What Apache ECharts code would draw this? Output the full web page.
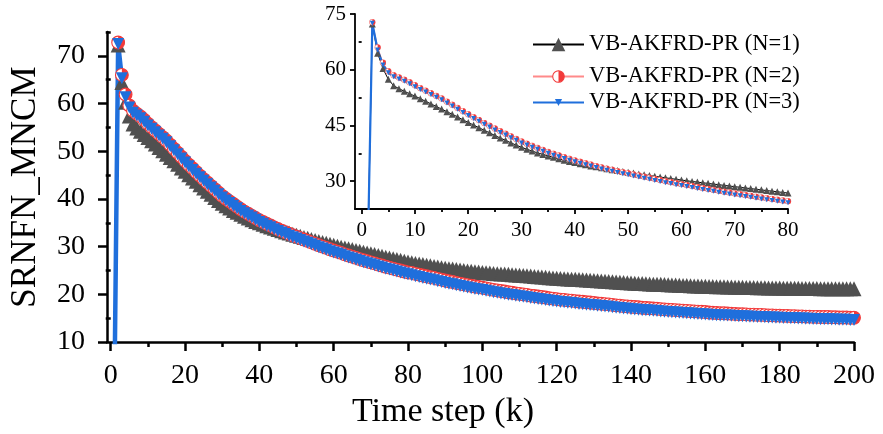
<!DOCTYPE html>
<html>
<head>
<meta charset="utf-8">
<script src="https://cdn.jsdelivr.net/npm/echarts@6/dist/echarts.min.js"></script>
<style>
  html, body { margin: 0; padding: 0; background: #fff; }
  #chart { width: 883px; height: 434px; }
</style>
</head>
<body>
<div id="chart"></div>
<script>
// Time steps k = 1 .. 200
const timeSteps = Array.from({ length: 200 }, (_, i) => i + 1);

// SRNFN_MNCM per time step, one array per filter order N
const seriesN1 = [
  0, 72.3, 64.4, 60.3, 57.4, 55.7, 54.9, 54.2, 53.5, 52.9,
  52.2, 51.5, 50.8, 50.1, 49.4, 48.7, 48.0, 47.3, 46.5, 45.8,
  45.1, 44.4, 43.7, 43.0, 42.3, 41.6, 41.0, 40.3, 39.7, 39.1,
  38.6, 38.1, 37.6, 37.2, 36.8, 36.4, 36.0, 35.65, 35.3, 35.0,
  34.7, 34.4, 34.1, 33.85, 33.6, 33.35, 33.1, 32.85, 32.6, 32.4,
  32.2, 31.95, 31.75, 31.5, 31.3, 31.1, 30.9, 30.7, 30.5, 30.3,
  30.1, 29.9, 29.75, 29.55, 29.4, 29.2, 29.05, 28.85, 28.7, 28.5,
  28.35, 28.15, 28.0, 27.8, 27.65, 27.45, 27.3, 27.15, 26.95, 26.8,
  26.65, 26.5, 26.35, 26.25, 26.1, 26.0, 25.85, 25.75, 25.6, 25.5,
  25.4, 25.3, 25.2, 25.1, 25.0, 24.9, 24.85, 24.75, 24.7, 24.6,
  24.55, 24.5, 24.4, 24.35, 24.3, 24.25, 24.2, 24.1, 24.05, 24.0,
  23.95, 23.9, 23.85, 23.75, 23.7, 23.65, 23.6, 23.5, 23.45, 23.4,
  23.35, 23.3, 23.25, 23.2, 23.15, 23.1, 23.05, 23.0, 22.95, 22.9,
  22.85, 22.8, 22.75, 22.7, 22.65, 22.6, 22.55, 22.5, 22.45, 22.4,
  22.35, 22.3, 22.3, 22.25, 22.2, 22.15, 22.1, 22.1, 22.05, 22.0,
  21.95, 21.95, 21.9, 21.85, 21.85, 21.8, 21.75, 21.75, 21.7, 21.7,
  21.65, 21.65, 21.6, 21.6, 21.6, 21.55, 21.55, 21.5, 21.5, 21.5,
  21.45, 21.45, 21.45, 21.4, 21.4, 21.4, 21.35, 21.35, 21.35, 21.35,
  21.3, 21.3, 21.3, 21.3, 21.3, 21.25, 21.25, 21.25, 21.25, 21.25,
  21.2, 21.2, 21.2, 21.2, 21.2, 21.2, 21.2, 21.2, 21.2, 21.2
];

const seriesN2 = [
  0, 72.8, 66.0, 61.9, 59.6, 58.5, 57.9, 57.3, 56.6, 55.8,
  55.05, 54.35, 53.65, 52.95, 52.25, 51.4, 50.55, 49.7, 48.85, 48.0,
  47.2, 46.45, 45.65, 44.9, 44.15, 43.45, 42.75, 42.05, 41.35, 40.65,
  40.05, 39.5, 38.95, 38.4, 37.85, 37.35, 36.9, 36.45, 36.0, 35.55,
  35.2, 34.8, 34.45, 34.05, 33.7, 33.35, 33.05, 32.7, 32.4, 32.1,
  31.8, 31.5, 31.2, 30.9, 30.6, 30.3, 30.0, 29.75, 29.45, 29.2,
  28.95, 28.7, 28.4, 28.15, 27.9, 27.65, 27.4, 27.15, 26.95, 26.7,
  26.5, 26.25, 26.05, 25.8, 25.6, 25.4, 25.2, 25.0, 24.8, 24.6,
  24.5, 24.3, 24.15, 23.95, 23.8, 23.6, 23.45, 23.25, 23.1, 22.9,
  22.75, 22.6, 22.4, 22.25, 22.1, 21.95, 21.8, 21.65, 21.55, 21.4,
  21.25, 21.1, 20.95, 20.85, 20.7, 20.6, 20.45, 20.35, 20.2, 20.1,
  20.0, 19.9, 19.75, 19.65, 19.55, 19.45, 19.35, 19.2, 19.1, 19.0,
  18.9, 18.85, 18.75, 18.7, 18.6, 18.5, 18.45, 18.35, 18.3, 18.2,
  18.1, 18.05, 17.95, 17.9, 17.8, 17.7, 17.65, 17.55, 17.5, 17.4,
  17.35, 17.3, 17.2, 17.15, 17.1, 17.05, 17.0, 16.9, 16.85, 16.8,
  16.75, 16.7, 16.65, 16.6, 16.55, 16.5, 16.45, 16.4, 16.35, 16.3,
  16.2, 16.15, 16.1, 16.05, 16.05, 16.0, 15.95, 15.9, 15.85, 15.85,
  15.8, 15.75, 15.75, 15.7, 15.7, 15.65, 15.6, 15.6, 15.55, 15.55,
  15.5, 15.5, 15.45, 15.45, 15.4, 15.4, 15.35, 15.35, 15.3, 15.3,
  15.25, 15.25, 15.25, 15.2, 15.2, 15.15, 15.15, 15.15, 15.1, 15.1
];

const seriesN3 = [
  0, 72.5, 65.3, 61.3, 59.2, 58.1, 57.5, 56.9, 56.2, 55.4,
  54.7, 54.0, 53.3, 52.6, 51.9, 51.05, 50.2, 49.35, 48.5, 47.65,
  46.85, 46.1, 45.3, 44.55, 43.8, 43.1, 42.4, 41.7, 41.0, 40.3,
  39.7, 39.15, 38.6, 38.05, 37.5, 37.0, 36.55, 36.1, 35.65, 35.2,
  34.8, 34.4, 34.05, 33.65, 33.3, 32.95, 32.65, 32.3, 32.0, 31.7,
  31.4, 31.1, 30.8, 30.5, 30.2, 29.9, 29.6, 29.35, 29.05, 28.8,
  28.55, 28.3, 28.0, 27.75, 27.5, 27.25, 27.0, 26.75, 26.55, 26.3,
  26.1, 25.85, 25.65, 25.4, 25.2, 25.0, 24.8, 24.6, 24.4, 24.2,
  24.0, 23.8, 23.65, 23.45, 23.3, 23.1, 22.95, 22.75, 22.6, 22.4,
  22.25, 22.1, 21.9, 21.75, 21.6, 21.45, 21.3, 21.15, 21.05, 20.9,
  20.75, 20.6, 20.45, 20.35, 20.2, 20.1, 19.95, 19.85, 19.7, 19.6,
  19.5, 19.4, 19.25, 19.15, 19.05, 18.95, 18.85, 18.7, 18.6, 18.5,
  18.4, 18.35, 18.25, 18.2, 18.1, 18.0, 17.95, 17.85, 17.8, 17.7,
  17.6, 17.55, 17.45, 17.4, 17.3, 17.2, 17.15, 17.05, 17.0, 16.9,
  16.85, 16.8, 16.7, 16.65, 16.6, 16.55, 16.5, 16.4, 16.35, 16.3,
  16.25, 16.2, 16.15, 16.1, 16.05, 16.0, 15.95, 15.9, 15.85, 15.8,
  15.75, 15.7, 15.65, 15.6, 15.6, 15.55, 15.5, 15.45, 15.4, 15.4,
  15.35, 15.3, 15.3, 15.25, 15.25, 15.2, 15.15, 15.15, 15.1, 15.1,
  15.05, 15.05, 15.0, 15.0, 14.95, 14.95, 14.9, 14.9, 14.85, 14.85,
  14.8, 14.8, 14.8, 14.75, 14.75, 14.7, 14.7, 14.7, 14.65, 14.65
];

const seriesNames = ['VB-AKFRD-PR (N=1)', 'VB-AKFRD-PR (N=2)', 'VB-AKFRD-PR (N=3)'];

// Tick values
const mainXTicks = [0, 20, 40, 60, 80, 100, 120, 140, 160, 180, 200];
const mainXMinor = [10, 30, 50, 70, 90, 110, 130, 150, 170, 190];
const mainYTicks = [10, 20, 30, 40, 50, 60, 70];
const mainYMinor = [15, 25, 35, 45, 55, 65, 75];
const insetXTicks = [0, 10, 20, 30, 40, 50, 60, 70, 80];
const insetXMinor = [5, 15, 25, 35, 45, 55, 65, 75];
const insetYTicks = [30, 45, 60, 75];
const insetYMinor = [22.5, 37.5, 52.5, 67.5];

const FONT = '"Liberation Serif", "Times New Roman", serif';
const GRAY = '#505050';
const RED = '#f23a3a';
const RED_LINE = '#ff8a8a';
const BLUE = '#1f6fdc';

// Half-filled circle marker (left white, right red)
const halfCircleSvg =
  "<svg xmlns='http://www.w3.org/2000/svg' width='40' height='40' viewBox='0 0 40 40'>" +
  "<circle cx='20' cy='20' r='17' fill='#ffffff' stroke='" + RED + "' stroke-width='3'/>" +
  "<path d='M20 3 A17 17 0 0 1 20 37 Z' fill='" + RED + "'/></svg>";
const halfCircle = 'image://data:image/svg+xml;charset=utf-8,' + encodeURIComponent(halfCircleSvg);

const pairs = (vals) => timeSteps.map((k, i) => [k, vals[i]]);
const insetPairs = (vals) => pairs(vals).slice(0, 82);

function valueAxis(opts) {
  return Object.assign({
    type: 'value',
    splitLine: { show: false },
    axisLine: { show: true, onZero: false, lineStyle: { color: '#000', width: 2.5 } },
    axisTick: { show: true, inside: false, length: 9, lineStyle: { color: '#000', width: 2.5 } },
    axisLabel: { show: true, color: '#000', fontFamily: FONT, fontSize: 28 }
  }, opts);
}

function minorAxis(opts, len, width) {
  return Object.assign({
    type: 'value',
    splitLine: { show: false },
    axisLine: { show: false },
    axisLabel: { show: false },
    axisTick: { show: true, inside: false, length: len, customValues: opts.ticks, lineStyle: { color: '#000', width: width } }
  }, opts.base);
}

const legendText = { color: '#000', fontFamily: FONT, fontSize: 22.5 };

const option = {
  animation: false,
  backgroundColor: '#ffffff',
  grid: [
    { left: 107, right: 29, top: 32, bottom: 87, containLabel: false },
    { left: 355, right: 95, top: 14, bottom: 225, containLabel: false }
  ],
  xAxis: [
    valueAxis({
      gridIndex: 0, position: 'bottom', min: -1, max: 200,
      axisTick: { show: true, length: 9, customValues: mainXTicks, lineStyle: { color: '#000', width: 2.5 } },
      axisLabel: { color: '#000', fontFamily: FONT, fontSize: 28, margin: 20, customValues: mainXTicks },
      name: 'Time step (k)', nameLocation: 'middle', nameGap: 48,
      nameTextStyle: { color: '#000', fontFamily: FONT, fontSize: 34, padding: [0, 75, 0, 0] }
    }),
    minorAxis({ base: { gridIndex: 0, position: 'bottom', min: -1, max: 200 }, ticks: mainXMinor }, 5, 2.5),
    valueAxis({
      gridIndex: 1, position: 'bottom', min: -1.25, max: 80,
      axisLine: { show: true, onZero: false, lineStyle: { color: '#000', width: 1.8 } },
      axisTick: { show: true, length: 5, customValues: insetXTicks, lineStyle: { color: '#000', width: 1.8 } },
      axisLabel: { color: '#000', fontFamily: FONT, fontSize: 21, margin: 11, customValues: insetXTicks }
    }),
    minorAxis({ base: { gridIndex: 1, position: 'bottom', min: -1.25, max: 80 }, ticks: insetXMinor }, 3, 1.8)
  ],
  yAxis: [
    valueAxis({
      gridIndex: 0, position: 'left', min: 10, max: 75,
      axisTick: { show: true, length: 9, customValues: mainYTicks, lineStyle: { color: '#000', width: 2.5 } },
      axisLabel: { color: '#000', fontFamily: FONT, fontSize: 28, margin: 22, customValues: mainYTicks },
      name: 'SRNFN_MNCM', nameLocation: 'middle', nameGap: 64, nameRotate: 90,
      nameTextStyle: { color: '#000', fontFamily: FONT, fontSize: 35 }
    }),
    minorAxis({ base: { gridIndex: 0, position: 'left', min: 10, max: 75 }, ticks: mainYMinor }, 5, 2.5),
    valueAxis({
      gridIndex: 1, position: 'left', min: 22.5, max: 75,
      axisLine: { show: true, onZero: false, lineStyle: { color: '#000', width: 1.8 } },
      axisTick: { show: true, length: 5, customValues: insetYTicks, lineStyle: { color: '#000', width: 1.8 } },
      axisLabel: { color: '#000', fontFamily: FONT, fontSize: 21, margin: 9, customValues: insetYTicks }
    }),
    minorAxis({ base: { gridIndex: 1, position: 'left', min: 22.5, max: 75 }, ticks: insetYMinor }, 3, 1.8)
  ],
  legend: [
    {
      data: [seriesNames[0]], orient: 'vertical', left: 532, top: 33, padding: 0,
      itemWidth: 51, itemHeight: 17, itemGap: 0, textStyle: legendText
    },
    {
      data: [seriesNames[1]], orient: 'vertical', left: 532, top: 65, padding: 0,
      itemWidth: 51, itemHeight: 17, itemGap: 0, textStyle: legendText
    },
    {
      data: [seriesNames[2]], orient: 'vertical', left: 532, top: 91, padding: 0,
      itemWidth: 51, itemHeight: 9, itemGap: 0, textStyle: legendText
    }
  ],
  series: [
    // main plot
    {
      name: seriesNames[0], type: 'line', xAxisIndex: 0, yAxisIndex: 0,
      data: pairs(seriesN1), showSymbol: true, showAllSymbol: true, clip: true,
      symbol: 'triangle', symbolSize: 15,
      itemStyle: { color: GRAY }, lineStyle: { color: '#000', width: 1 }
    },
    {
      name: seriesNames[1], type: 'line', xAxisIndex: 0, yAxisIndex: 0,
      data: pairs(seriesN2), showSymbol: true, showAllSymbol: true, clip: true,
      symbol: halfCircle, symbolSize: 15,
      itemStyle: { color: RED }, lineStyle: { color: RED_LINE, width: 1.5 }
    },
    {
      name: seriesNames[2], type: 'line', xAxisIndex: 0, yAxisIndex: 0,
      data: pairs(seriesN3), showSymbol: true, showAllSymbol: true, clip: true,
      symbol: 'triangle', symbolRotate: 180, symbolSize: 12,
      itemStyle: { color: BLUE }, lineStyle: { color: BLUE, width: 4.5 }
    },
    // inset, first 80 steps
    {
      name: seriesNames[0], type: 'line', xAxisIndex: 2, yAxisIndex: 2,
      data: insetPairs(seriesN1), showSymbol: true, showAllSymbol: true, clip: true,
      symbol: 'triangle', symbolSize: 7,
      itemStyle: { color: GRAY }, lineStyle: { color: '#000', width: 1 }
    },
    {
      name: seriesNames[1], type: 'line', xAxisIndex: 2, yAxisIndex: 2,
      data: insetPairs(seriesN2), showSymbol: true, showAllSymbol: true, clip: true,
      symbol: halfCircle, symbolSize: 7,
      itemStyle: { color: RED }, lineStyle: { color: RED_LINE, width: 1 }
    },
    {
      name: seriesNames[2], type: 'line', xAxisIndex: 2, yAxisIndex: 2,
      data: insetPairs(seriesN3), showSymbol: true, showAllSymbol: true, clip: true,
      symbol: 'triangle', symbolRotate: 180, symbolSize: 5,
      itemStyle: { color: BLUE }, lineStyle: { color: BLUE, width: 2.2 }
    }
  ]
};

const chart = echarts.init(document.getElementById('chart'), null, { renderer: 'canvas' });
chart.setOption(option);
</script>
</body>
</html>
